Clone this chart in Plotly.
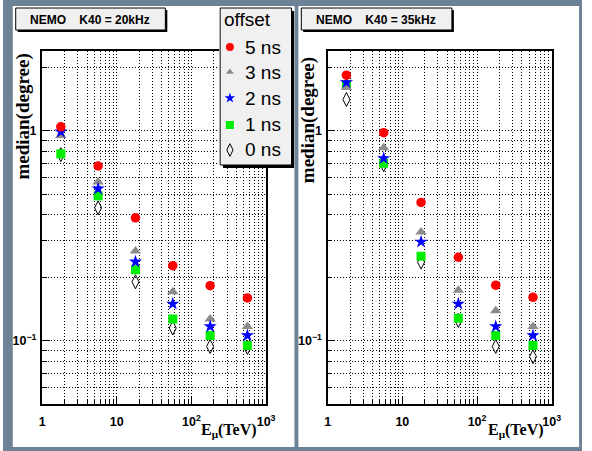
import math
import plotly.graph_objects as go

W, H = 592, 451

# ---------------- data ----------------
energy_tev = [1.78, 5.62, 17.8, 56.2, 178, 562]
offset_labels = ["5 ns", "3 ns", "2 ns", "1 ns", "0 ns"]

# K40 = 20 kHz
median_20khz_5ns = [1.045, 0.68, 0.385, 0.228, 0.183, 0.160]
median_20khz_3ns = [0.950, 0.57, 0.268, 0.171, 0.127, 0.117]
median_20khz_2ns = [0.990, 0.53, 0.238, 0.150, 0.117, 0.106]
median_20khz_1ns = [0.777, 0.49, 0.218, 0.127, 0.106, 0.095]
median_20khz_0ns = [0.770, 0.43, 0.191, 0.115, 0.094, 0.093]

# K40 = 35 kHz
median_35khz_5ns = [1.84, 0.98, 0.456, 0.250, 0.184, 0.161]
median_35khz_3ns = [1.61, 0.83, 0.330, 0.174, 0.139, 0.117]
median_35khz_2ns = [1.70, 0.74, 0.296, 0.150, 0.117, 0.106]
median_35khz_1ns = [1.66, 0.70, 0.253, 0.128, 0.106, 0.095]
median_35khz_0ns = [1.41, 0.69, 0.237, 0.125, 0.094, 0.084]

panel_titles = ["NEMO\u00a0\u00a0\u00a0 K40 = 20kHz", "NEMO\u00a0\u00a0\u00a0 K40 = 35kHz"]

# ---------------- styles ----------------
styles = {
    "5 ns": dict(symbol="circle", color="#ff0000", size=9.5, lw=0, lsize=8),
    "3 ns": dict(symbol="triangle-up", color="#8c8c8c", size=10, lw=0, lsize=7),
    "2 ns": dict(symbol="star", color="#0000ff", size=10, lw=0, lsize=8),
    "1 ns": dict(symbol="square", color="#00ee00", size=9, lw=0, lsize=8),
    "0 ns": dict(symbol="diamond-tall-open", color="#000000", size=10, lw=1, lsize=9),
}
draw_order = ["0 ns", "1 ns", "3 ns", "2 ns", "5 ns"]

panels = [
    {"5 ns": median_20khz_5ns, "3 ns": median_20khz_3ns, "2 ns": median_20khz_2ns,
     "1 ns": median_20khz_1ns, "0 ns": median_20khz_0ns},
    {"5 ns": median_35khz_5ns, "3 ns": median_35khz_3ns, "2 ns": median_35khz_2ns,
     "1 ns": median_35khz_1ns, "0 ns": median_35khz_0ns},
]

def px(x):
    return x / W

def py(y):
    return 1 - y / H

fig = go.Figure()

for i, pdata in enumerate(panels):
    xa = "x" if i == 0 else "x2"
    ya = "y" if i == 0 else "y2"
    for lab in draw_order:
        s = styles[lab]
        fig.add_trace(go.Scatter(
            x=energy_tev, y=pdata[lab], mode="markers", xaxis=xa, yaxis=ya,
            name=lab, showlegend=False,
            marker=dict(symbol=s["symbol"], color=s["color"], size=s["size"],
                        line=dict(width=s["lw"], color=s["color"])),
        ))

# legend swatches on an auxiliary pixel-unit subplot
leg_rows_y = [39, 64, 90, 117, 142]
for lab, yy in zip(offset_labels, leg_rows_y):
    s = styles[lab]
    fig.add_trace(go.Scatter(
        x=[10], y=[yy], mode="markers", xaxis="x3", yaxis="y3", showlegend=False,
        hoverinfo="skip",
        marker=dict(symbol=s["symbol"], color=s["color"], size=s["lsize"],
                    line=dict(width=s["lw"], color=s["color"])),
    ))

grid = dict(gridcolor="#000000", gridwidth=1, griddash="1px,2px")
tickfont = dict(family="Liberation Sans", size=10, color="black", weight="bold")

def xaxis_cfg(domain, anchor):
    return dict(type="log", range=[0, 3], domain=domain, anchor=anchor,
                showline=True, mirror=True, linecolor="black", linewidth=1.5,
                ticks="inside", ticklen=8, tickcolor="black", dtick=1,
                exponentformat="power", tickfont=tickfont, ticklabelstandoff=6,
                showgrid=True, **grid,
                minor=dict(dtick="D1", ticks="inside", ticklen=5, tickcolor="black",
                           showgrid=True, **grid),
                zeroline=False)

def yaxis_cfg(anchor):
    return dict(type="log", range=[math.log10(0.05), math.log10(2.4)],
                domain=[py(404), py(51)], anchor=anchor,
                showline=True, mirror=True, linecolor="black", linewidth=1.5,
                ticks="inside", ticklen=8, tickcolor="black", dtick=1,
                exponentformat="power", tickfont=tickfont, ticklabelstandoff=2,
                showgrid=True, **grid,
                minor=dict(dtick="D1", ticks="inside", ticklen=5, tickcolor="black",
                           showgrid=True, **grid),
                zeroline=False)

fig.update_layout(
    width=W, height=H, margin=dict(l=0, r=0, t=0, b=0),
    paper_bgcolor="white", plot_bgcolor="white", showlegend=False,
    xaxis=xaxis_cfg([px(40), px(269)], "y"),
    yaxis=yaxis_cfg("x"),
    xaxis2=xaxis_cfg([px(332), px(561)], "y2"),
    yaxis2=yaxis_cfg("x2"),
    xaxis3=dict(domain=[px(221), px(298)], range=[-1, 76], visible=False,
                anchor="y3", fixedrange=True),
    yaxis3=dict(domain=[py(168), py(7)], range=[160, -1], visible=False,
                anchor="x3", fixedrange=True),
)

border = "#6d8296"
shapes = []
# blue-grey canvas borders
for (x0, y0, x1, y1) in [(0, 0, 10, H), (0, 0, W, 6), (298, 0, 302, H),
                         (589, 0, W, H), (0, 447, W, H)]:
    shapes.append(dict(type="rect", xref="paper", yref="paper", layer="below",
                       x0=px(x0), x1=px(x1), y0=py(y1), y1=py(y0),
                       fillcolor=border, line=dict(width=0)))
# title boxes with shadows
for (x0, y0, x1, y1) in [(13, 8, 166, 30), (305, 8, 459, 30)]:
    shapes.append(dict(type="rect", xref="paper", yref="paper", layer="below",
                       x0=px(x0 + 2), x1=px(x1 + 2), y0=py(y1 + 2), y1=py(y0 + 2),
                       fillcolor="black", line=dict(width=0)))
    shapes.append(dict(type="rect", xref="paper", yref="paper", layer="below",
                       x0=px(x0), x1=px(x1), y0=py(y1), y1=py(y0),
                       fillcolor="#f0f0f0", line=dict(width=1, color="black")))
# legend box with shadow (on auxiliary subplot so it covers the left plot)
shapes.append(dict(type="rect", xref="x3", yref="y3", layer="below",
                   x0=3, x1=76, y0=3, y1=160, fillcolor="black", line=dict(width=0)))
shapes.append(dict(type="rect", xref="x3", yref="y3", layer="below",
                   x0=0, x1=73, y0=0, y1=157, fillcolor="#f0f0f0",
                   line=dict(width=1, color="black")))
fig.update_layout(shapes=shapes)

ann = []
for t, cx in zip(panel_titles, [89, 381]):
    ann.append(dict(text=t, x=px(cx), y=py(20), xref="paper", yref="paper",
                    showarrow=False, xanchor="center", yanchor="middle",
                    font=dict(family="Liberation Sans", size=12, color="black", weight="bold")))
for cx, cy in [(20, 117), (312, 120)]:
    ann.append(dict(text="median(degree)", x=px(cx), y=py(cy), xref="paper", yref="paper",
                    showarrow=False, textangle=-90, xanchor="center", yanchor="middle",
                    font=dict(family="Liberation Serif", size=19, color="black", weight="bold")))
for cx in [231, 525]:
    ann.append(dict(text="E<sub>\u03bc</sub>(TeV)", x=px(cx), y=py(430), xref="paper",
                    yref="paper", showarrow=False, xanchor="center", yanchor="middle",
                    font=dict(family="Liberation Serif", size=16, color="black", weight="bold")))
# legend texts
ann.append(dict(text="offset", x=px(224), y=py(20), xref="paper", yref="paper",
                showarrow=False, xanchor="left", yanchor="middle",
                font=dict(family="Liberation Sans", size=19, color="black")))
for lab, yy in zip(offset_labels, leg_rows_y):
    ann.append(dict(text=lab, x=px(245), y=py(8 + yy), xref="paper", yref="paper",
                    showarrow=False, xanchor="left", yanchor="middle",
                    font=dict(family="Liberation Sans", size=19, color="black")))
fig.update_layout(annotations=ann)

fig.write_html("out.html", config={"displayModeBar": False},
               post_script="document.body.style.margin='0';")
